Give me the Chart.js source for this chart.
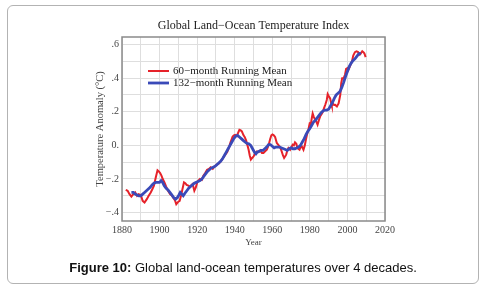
<!DOCTYPE html>
<html><head><meta charset="utf-8">
<script src="https://cdn.jsdelivr.net/npm/chart.js@4"></script>
<style>
html,body{margin:0;padding:0;background:#fff;}
#wrap{position:relative;width:486px;height:290px;overflow:hidden;}
#card{position:absolute;left:7px;top:5px;width:470px;height:277px;border:1px solid #b3b3b3;border-radius:6px;}
#c{position:absolute;left:0;top:0;}
#cap{position:absolute;left:0;width:486px;top:259px;text-align:center;font-family:'Liberation Sans',Arial,sans-serif;font-size:13px;color:#111;line-height:18px;}
</style></head><body>
<div id="wrap"><div id="card"></div><canvas id="c" width="486" height="290"></canvas>
<div id="cap"><b>Figure 10:</b> Global land-ocean temperatures over 4 decades.</div></div>
<script>
const chartTitle = 'Global Land\u2212Ocean Temperature Index';
const seriesNames = ['60\u2212month Running Mean', '132\u2212month Running Mean'];
const seriesColors = ['#e6222a', '#3a4ab8'];

const years60 = [1882.0,1883.0,1884.0,1885.0,1886.0,1887.0,1888.0,1888.8,1890.0,1891.0,1892.0,1893.2,1894.2,1895.3,1896.2,1897.0,1898.0,1898.9,1899.6,1900.3,1901.0,1901.7,1902.6,1903.5,1904.5,1905.6,1906.6,1907.7,1908.3,1908.9,1910.0,1910.7,1911.4,1912.2,1913.0,1913.7,1914.4,1915.3,1916.2,1917.0,1917.6,1918.5,1919.3,1920.2,1921.5,1922.5,1923.3,1924.3,1925.3,1926.3,1927.2,1928.3,1929.3,1930.4,1931.3,1932.2,1933.2,1934.0,1935.0,1936.0,1937.0,1937.8,1938.9,1939.6,1940.2,1941.1,1941.8,1942.5,1943.2,1943.8,1944.7,1945.3,1946.1,1946.8,1947.4,1948.0,1948.6,1949.3,1950.1,1950.9,1951.8,1952.7,1953.6,1954.5,1955.3,1956.2,1957.1,1958.0,1958.8,1959.5,1960.1,1960.8,1961.5,1962.4,1963.1,1963.8,1964.5,1965.0,1965.7,1966.3,1966.9,1967.4,1968.0,1968.6,1969.5,1970.2,1970.9,1971.5,1972.1,1972.8,1973.4,1974.5,1975.1,1975.7,1976.6,1977.3,1977.9,1978.6,1979.2,1979.9,1980.5,1981.0,1981.5,1982.1,1982.8,1983.5,1984.1,1984.8,1985.5,1986.2,1986.9,1987.5,1988.2,1989.0,1989.5,1990.2,1990.8,1991.3,1991.7,1992.5,1993.0,1993.5,1994.4,1995.3,1996.2,1996.7,1997.2,1998.0,1998.7,1999.3,2000.0,2000.5,2001.1,2001.7,2002.4,2003.1,2004.0,2004.8,2005.7,2006.6,2007.3,2007.9,2008.5,2009.0,2009.7];
const anomaly60 = [-0.265,-0.27,-0.29,-0.305,-0.29,-0.28,-0.30,-0.29,-0.295,-0.33,-0.34,-0.32,-0.30,-0.28,-0.26,-0.24,-0.19,-0.148,-0.155,-0.165,-0.18,-0.20,-0.22,-0.245,-0.27,-0.29,-0.30,-0.318,-0.33,-0.35,-0.335,-0.33,-0.30,-0.26,-0.22,-0.225,-0.235,-0.24,-0.245,-0.235,-0.23,-0.27,-0.25,-0.215,-0.20,-0.205,-0.18,-0.165,-0.145,-0.14,-0.13,-0.14,-0.125,-0.115,-0.11,-0.10,-0.085,-0.07,-0.055,-0.04,-0.01,0.02,0.053,0.06,0.063,0.055,0.075,0.093,0.09,0.083,0.06,0.05,0.028,0.0,-0.026,-0.06,-0.085,-0.075,-0.065,-0.045,-0.036,-0.04,-0.03,-0.045,-0.045,-0.035,-0.026,0.0,0.035,0.06,0.065,0.06,0.05,0.014,0.005,-0.006,-0.02,-0.036,-0.06,-0.075,-0.065,-0.055,-0.03,-0.016,-0.026,-0.01,0.004,0.0,0.018,0.01,-0.016,-0.026,-0.01,-0.006,-0.026,0.0,0.034,0.07,0.093,0.13,0.125,0.16,0.19,0.17,0.153,0.14,0.123,0.15,0.173,0.185,0.20,0.22,0.242,0.27,0.305,0.29,0.28,0.255,0.237,0.245,0.24,0.241,0.232,0.25,0.30,0.37,0.40,0.40,0.42,0.455,0.46,0.45,0.465,0.48,0.50,0.535,0.555,0.56,0.555,0.54,0.55,0.56,0.555,0.548,0.525];

const years132 = [1885.0,1886.0,1887.0,1888.0,1889.0,1890.0,1891.0,1892.0,1893.0,1894.0,1895.0,1896.0,1897.0,1898.0,1899.0,1900.0,1900.8,1901.6,1902.5,1903.5,1904.5,1905.5,1906.5,1907.5,1908.5,1909.5,1910.3,1911.0,1911.8,1912.6,1913.5,1914.5,1915.5,1916.5,1917.5,1918.5,1919.5,1920.5,1921.5,1922.5,1923.5,1924.5,1925.5,1926.5,1927.5,1928.5,1929.5,1930.5,1931.5,1932.5,1933.5,1934.5,1935.5,1936.5,1937.5,1938.5,1939.5,1940.5,1941.5,1942.5,1943.5,1944.5,1945.5,1946.5,1947.5,1948.5,1949.5,1950.5,1951.3,1952.0,1953.0,1954.0,1955.0,1956.0,1957.0,1958.0,1959.0,1960.0,1961.0,1962.0,1963.0,1964.0,1965.0,1966.0,1967.0,1968.0,1969.0,1970.0,1971.0,1972.0,1973.0,1974.0,1975.0,1976.0,1977.0,1978.0,1979.0,1980.0,1981.0,1982.0,1983.0,1984.0,1985.0,1986.0,1987.0,1988.0,1989.0,1990.0,1991.0,1992.0,1993.0,1994.0,1995.0,1996.0,1997.0,1998.0,1999.0,2000.0,2001.0,2002.0,2003.0,2004.0,2005.0,2006.0,2007.2];
const anomaly132 = [-0.28,-0.28,-0.29,-0.295,-0.30,-0.30,-0.29,-0.28,-0.27,-0.26,-0.25,-0.235,-0.225,-0.22,-0.22,-0.22,-0.21,-0.22,-0.24,-0.255,-0.265,-0.28,-0.295,-0.31,-0.32,-0.31,-0.295,-0.28,-0.29,-0.30,-0.285,-0.27,-0.255,-0.245,-0.235,-0.225,-0.22,-0.215,-0.21,-0.20,-0.185,-0.17,-0.155,-0.145,-0.135,-0.13,-0.125,-0.115,-0.105,-0.095,-0.08,-0.06,-0.04,-0.02,0.0,0.02,0.04,0.055,0.06,0.05,0.04,0.03,0.02,0.012,0.01,0.0,-0.02,-0.04,-0.05,-0.04,-0.035,-0.03,-0.03,-0.02,-0.01,0.005,0.005,-0.005,-0.015,-0.01,-0.01,-0.01,-0.015,-0.02,-0.025,-0.03,-0.02,-0.015,-0.02,-0.02,-0.015,-0.01,0.0,0.02,0.04,0.065,0.085,0.10,0.12,0.14,0.15,0.165,0.18,0.195,0.205,0.21,0.21,0.215,0.235,0.255,0.28,0.30,0.31,0.32,0.345,0.375,0.41,0.44,0.47,0.49,0.505,0.515,0.53,0.545,0.55];

const yTickValues = [-0.4, -0.2, 0, 0.2, 0.4, 0.6];
const yTickLabels = ['\u2212.4', '\u2212.2', '0.', '.2', '.4', '.6'];
const xTickLabels = ['1880','1900','1920','1940','1960','1980','2000','2020'];

const toPoints = (xs, ys) => xs.map((x, i) => ({x: x, y: ys[i]}));
const serif = "'Liberation Serif','Times New Roman',serif";

const frameAndLegend = {
  id: 'frameAndLegend',
  afterDatasetsDraw(chart) {
    const {ctx, chartArea: a} = chart;
    ctx.save();
    ctx.strokeStyle = '#8a8a8a';
    ctx.lineWidth = 1.5;
    ctx.strokeRect(a.left, a.top, a.right - a.left, a.bottom - a.top);
    const ds = [chart.data.datasets[0], chart.data.datasets[1]];
    ctx.font = '11px ' + serif;
    ctx.textBaseline = 'middle';
    ctx.textAlign = 'left';
    ds.forEach((d, i) => {
      const y = a.top + 34 + i * 12;
      ctx.strokeStyle = d.borderColor;
      ctx.lineWidth = d.borderWidth;
      ctx.beginPath();
      ctx.moveTo(a.left + 26, y);
      ctx.lineTo(a.left + 47, y);
      ctx.stroke();
      ctx.fillStyle = '#222';
      ctx.fillText(d.label, a.left + 51, y);
    });
    ctx.restore();
  }
};

new Chart(document.getElementById('c'), {
  type: 'line',
  data: {
    datasets: [
      {label: seriesNames[0], data: toPoints(years60, anomaly60), borderColor: seriesColors[0], borderWidth: 2, pointRadius: 0, tension: 0, order: 1},
      {label: seriesNames[1], data: toPoints(years132, anomaly132), borderColor: seriesColors[1], borderWidth: 2.8, pointRadius: 0, tension: 0, order: 0}
    ]
  },
  options: {
    responsive: false,
    animation: false,
    devicePixelRatio: 1,
    layout: {padding: {left: 0, right: 101, top: 0, bottom: 0}},
    plugins: {
      legend: {display: false},
      tooltip: {enabled: false},
      title: {display: true, text: chartTitle, fullSize: false, color: '#222',
        font: {family: serif, size: 12, weight: 'normal'}, padding: {top: 18.5, bottom: 4.1}}
    },
    scales: {
      x: {
        type: 'linear', min: 1880, max: 2020,
        afterFit: (s) => { s.height = 69; },
        grid: {color: '#dedede', lineWidth: 1, drawTicks: false},
        border: {display: false},
        ticks: {stepSize: 10, padding: 3, color: '#444', font: {family: serif, size: 10}, maxRotation: 0, autoSkip: false,
          callback: (v) => { const s = String(Math.round(v)); return xTickLabels.includes(s) ? s : ''; }},
        title: {display: true, text: 'Year', color: '#444', font: {family: serif, size: 9}, padding: {top: 0, bottom: 41.5}}
      },
      y: {
        type: 'linear', min: -0.45, max: 0.645,
        afterFit: (s) => { s.width = 122; },
        grid: {color: '#dedede', lineWidth: 1, drawTicks: false},
        border: {display: false},
        ticks: {stepSize: 0.1, includeBounds: false, padding: 3, color: '#444', font: {family: serif, size: 10}, autoSkip: false,
          callback: (v) => { const i = yTickValues.findIndex(t => Math.abs(t - v) < 1e-6); return i >= 0 ? yTickLabels[i] : ''; }},
        title: {display: true, text: 'Temperature Anomaly (\u00b0C)', color: '#444', font: {family: serif, size: 10.5}, padding: {top: 93.7, bottom: 0}}
      }
    }
  },
  plugins: [frameAndLegend]
});
</script>
</body></html>
